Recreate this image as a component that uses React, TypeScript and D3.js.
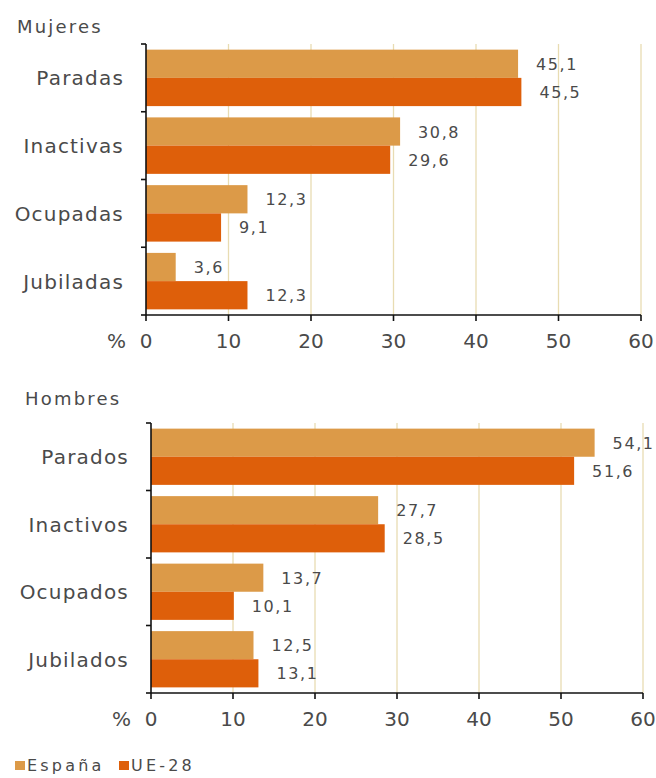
import React from "react";
import * as d3 from "d3";

const mujeresCats = ["Paradas", "Inactivas", "Ocupadas", "Jubiladas"];
const mujeresEspana = [45.1, 30.8, 12.3, 3.6];
const mujeresUE = [45.5, 29.6, 9.1, 12.3];

const hombresCats = ["Parados", "Inactivos", "Ocupados", "Jubilados"];
const hombresEspana = [54.1, 27.7, 13.7, 12.5];
const hombresUE = [51.6, 28.5, 10.1, 13.1];

const xTicks = [0, 10, 20, 30, 40, 50, 60];
const seriesNames = ["España", "UE-28"];

const COLORS = ["#DC9A48", "#DE5F0A"];
const FONT = "'DejaVu Sans', Verdana, sans-serif";
const TEXT = "#4a4a4a";

interface PanelProps {
  title: string;
  titleX: number;
  titleY: number;
  cats: string[];
  espana: number[];
  ue: number[];
  x0: number;
  x1: number;
  y0: number;
  y1: number;
}

function Panel({ title, titleX, titleY, cats, espana, ue, x0, x1, y0, y1 }: PanelProps) {
  const x = d3.scaleLinear().domain([0, 60]).range([x0, x1]);
  const y = d3.scaleBand<string>().domain(cats).range([y0, y1]);
  const inner = d3
    .scaleBand<number>()
    .domain([0, 1])
    .range([0, y.bandwidth()])
    .paddingOuter(0.2);
  const fmt = (v: number) => v.toFixed(1).replace(".", ",");
  const boundaries = cats.map((c) => y(c) as number).concat([y1]);

  return (
    <g>
      <text x={titleX} y={titleY} fontSize={18} letterSpacing={2.2} fill={TEXT} fontFamily={FONT}>
        {title}
      </text>
      {/* grid */}
      {xTicks.slice(1).map((t) => (
        <line key={"g" + t} x1={x(t)} x2={x(t)} y1={y0} y2={y1} stroke="#E8DCB2" strokeWidth={1.3} />
      ))}
      {/* bars */}
      {cats.map((c, i) =>
        [espana[i], ue[i]].map((v, s) => (
          <rect
            key={c + s}
            x={x(0)}
            y={(y(c) as number) + (inner(s) as number)}
            width={x(v) - x(0)}
            height={inner.bandwidth()}
            fill={COLORS[s]}
          />
        ))
      )}
      {/* value labels */}
      {cats.map((c, i) =>
        [espana[i], ue[i]].map((v, s) => (
          <text
            key={"l" + c + s}
            x={x(v) + 18}
            y={(y(c) as number) + (inner(s) as number) + inner.bandwidth() / 2 + 6}
            fontSize={16}
            letterSpacing={1.6}
            fill={TEXT}
            fontFamily={FONT}
          >
            {fmt(v)}
          </text>
        ))
      )}
      {/* y axis */}
      <line x1={x0} x2={x0} y1={y0} y2={y1} stroke="#111" strokeWidth={1.6} />
      {boundaries.map((b, i) => (
        <line key={"yt" + i} x1={x0 - 5} x2={x0} y1={b} y2={b} stroke="#111" strokeWidth={1.6} />
      ))}
      {cats.map((c) => (
        <text
          key={"c" + c}
          x={x0 - 22}
          y={(y(c) as number) + y.bandwidth() / 2 + 7.5}
          textAnchor="end"
          fontSize={20}
          letterSpacing={1.2}
          fill={TEXT}
          fontFamily={FONT}
        >
          {c}
        </text>
      ))}
      {/* x axis */}
      <line x1={x0} x2={x1} y1={y1} y2={y1} stroke="#111" strokeWidth={1.6} />
      {xTicks.map((t) => (
        <g key={"xt" + t}>
          <line x1={x(t)} x2={x(t)} y1={y1} y2={y1 + 6} stroke="#111" strokeWidth={1.6} />
          <text x={x(t)} y={y1 + 33} textAnchor="middle" fontSize={20} fill={TEXT} fontFamily={FONT}>
            {t}
          </text>
        </g>
      ))}
      <text x={x0 - 20} y={y1 + 33} textAnchor="end" fontSize={20} fill={TEXT} fontFamily={FONT}>
        %
      </text>
    </g>
  );
}

export default function App() {
  return (
    <svg
      width={656}
      height={778}
      style={{ position: "absolute", left: 0, top: 0, background: "#fff" }}
    >
      <Panel
        title="Mujeres"
        titleX={17}
        titleY={33}
        cats={mujeresCats}
        espana={mujeresEspana}
        ue={mujeresUE}
        x0={146}
        x1={641}
        y0={44}
        y1={315}
      />
      <Panel
        title="Hombres"
        titleX={25}
        titleY={405}
        cats={hombresCats}
        espana={hombresEspana}
        ue={hombresUE}
        x0={151}
        x1={643}
        y0={423}
        y1={693}
      />
      {/* legend */}
      {seriesNames.map((n, i) => (
        <g key={n} transform={`translate(${15 + i * 104},761)`}>
          <rect x={0} y={0} width={10} height={9} fill={COLORS[i]} />
          <text x={12} y={10} fontSize={16} fill={TEXT} fontFamily={FONT} letterSpacing={3.2}>
            {n}
          </text>
        </g>
      ))}
    </svg>
  );
}
